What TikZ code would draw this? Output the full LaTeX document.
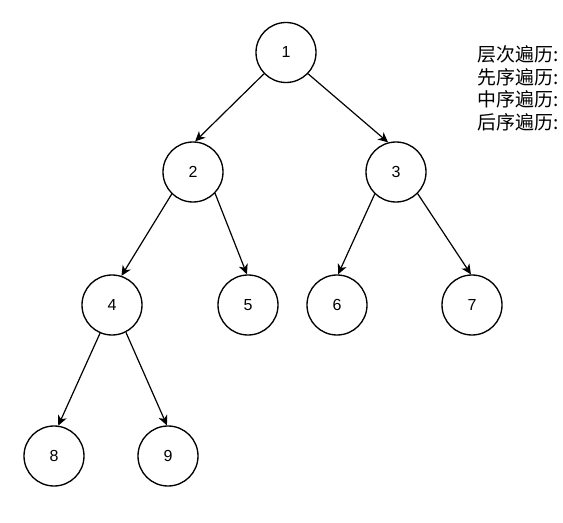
\documentclass[tikz,border=0pt]{standalone}
\usepackage{fontspec}
\setmainfont{Liberation Sans}
\newfontfamily\cjk{Noto Sans CJK SC}
\usepackage{xcolor}
\usepackage{tikz}
\usetikzlibrary{arrows.meta, positioning}

\begin{document}
\begin{tikzpicture}[
  x=0.75pt, y=-0.75pt,
  vert/.style={circle, draw=black, line width=1pt, fill=white,
               minimum size=45pt, inner sep=0pt, font=\fontsize{12}{14}\selectfont},
  arr/.style={-{Stealth[length=7.5pt, width=7pt, inset=2.2pt]}, line width=0.9pt}
]
  \useasboundingbox (0,0) rectangle (563,523);

  %% Tree nodes
  \node[vert] (n1) at (286,52.5) {1};

  \node[vert] (n2) at (193,172) {2};
  \node[vert] (n3) at (396,172) {3};

  \node[vert] (n4) at (112,305) {4};
  \node[vert] (n5) at (248,305) {5};
  \node[vert] (n6) at (337,305) {6};
  \node[vert] (n7) at (472,305) {7};

  \node[vert] (n8) at (54,456) {8};
  \node[vert] (n9) at (168,456) {9};

  %% Edges
  \draw[arr] (n1.224) -- (n2.86);
  \draw[arr] (n1.316) -- (n3.105);
  \draw[arr] (n2.226) -- (n4.72);
  \draw[arr] (n2.316) -- (n5.92);
  \draw[arr] (n3.226) -- (n6.88);
  \draw[arr] (n3.315) -- (n7.92);
  \draw[arr] (n4.247) -- (n8.82);
  \draw[arr] (n4.297) -- (n9.92);

  %% Traversal labels
  \node[anchor=north west, inner sep=0pt, align=left,
        font=\cjk\fontsize{14.2}{17.1}\selectfont] (trav) at (477,45)
    {层次遍历:\\ 先序遍历:\\ 中序遍历:\\ 后序遍历:};
\end{tikzpicture}
\end{document}
